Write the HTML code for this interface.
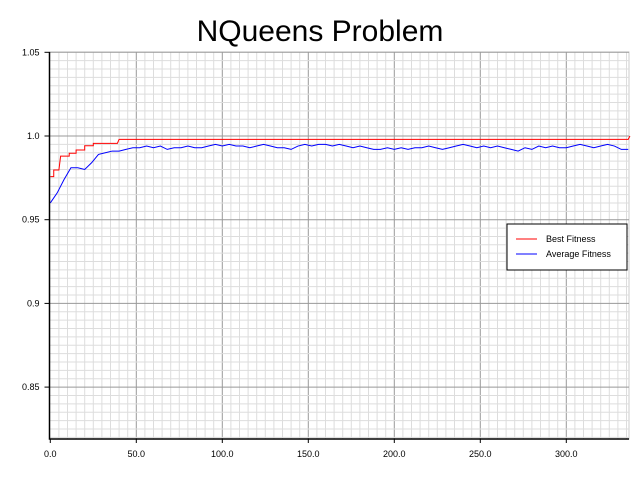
<!DOCTYPE html>
<html><head><meta charset="utf-8"><style>
body{margin:0;background:#fff;}
svg text{font-family:"Liberation Sans",Arial,sans-serif;}
</style></head><body>
<svg id="chart" width="640" height="480" xmlns="http://www.w3.org/2000/svg">
<text x="320" y="41" text-anchor="middle" font-size="30">NQueens Problem</text>
<g id="grid"></g><g id="series"></g><g id="axes"></g>
<g>
<rect x="507" y="224" width="120" height="46" fill="#fff" stroke="#000" stroke-width="1"/>
<line x1="516" y1="239" x2="537" y2="239" stroke="#f00"/>
<text x="546" y="242" font-size="9">Best Fitness</text>
<line x1="516" y1="254" x2="537" y2="254" stroke="#00f"/>
<text x="546" y="257" font-size="9">Average Fitness</text>
</g>
</svg>
<script>
const xTicks=[0,50,100,150,200,250,300];
const xTickLabels=["0.0","50.0","100.0","150.0","200.0","250.0","300.0"];
const yTicks=[0.85,0.9,0.95,1.0,1.05];
const yTickLabels=["0.85","0.9","0.95","1.0","1.05"];
const bestX=[0,2,2,5,6,11,11,15,15,20,20,25,25,39,40,336,337];
const bestY=[0.9757,0.9757,0.9797,0.9797,0.988,0.988,0.9897,0.9897,0.9916,0.9916,0.9942,0.9942,0.9956,0.9956,0.998,0.998,1.0];
const avgStep=4;
const avgY=[0.960,0.966,0.974,0.981,0.981,0.980,0.984,0.989,0.990,0.991,0.991,0.992,0.993,0.993,0.994,0.993,0.994,0.992,0.993,0.993,0.994,0.993,0.993,0.994,0.995,0.994,0.995,0.994,0.994,0.993,0.994,0.995,0.994,0.993,0.993,0.992,0.994,0.995,0.994,0.995,0.995,0.994,0.995,0.994,0.993,0.994,0.993,0.992,0.992,0.993,0.992,0.993,0.992,0.993,0.993,0.994,0.993,0.992,0.993,0.994,0.995,0.994,0.993,0.994,0.993,0.994,0.993,0.992,0.991,0.993,0.992,0.994,0.993,0.994,0.993,0.993,0.994,0.995,0.994,0.993,0.994,0.995,0.994,0.992,0.992];
const L=49.5,R=629,T=52,B=439;
const X=v=>50.3+v*1.72;
const Y=v=>136-(v-1.0)*1674;
const ns="http://www.w3.org/2000/svg";
function mk(tag,parent,attrs){const e=document.createElementNS(ns,tag);for(const k in attrs)e.setAttribute(k,attrs[k]);parent.appendChild(e);return e;}
const grid=document.getElementById('grid'),axes=document.getElementById('axes'),series=document.getElementById('series');
mk('rect',grid,{x:L,y:T,width:R-L,height:B-T,fill:'#fff',stroke:'#ccc'});
for(let v=5;X(v)<R;v+=5){const major=v%50===0;
const l=mk('line',grid,{x1:X(v),x2:X(v),y1:T,y2:B,stroke:major?'#999':'#ddd','stroke-width':1});

}
for(let i=0;;i++){const v=0.82+i*0.005;const y=Y(v);if(y<T)break;if(y>B)continue;const major=Math.abs((v*100)%5)<1e-6||Math.abs((v*100)%5-5)<1e-6;
const l=mk('line',grid,{x1:L,x2:R,y1:y,y2:y,stroke:major?'#999':'#ddd','stroke-width':1});

}
const ax=mk('path',axes,{d:`M${L},${T}V${B}H${R}`,fill:'none',stroke:'#000','stroke-width':1.5});


xTicks.forEach((v,i)=>{mk('line',axes,{x1:X(v),x2:X(v),y1:B,y2:B+4,stroke:'#000'});
const t=mk('text',axes,{x:X(v),y:B+18,'text-anchor':'middle','font-size':9});t.textContent=xTickLabels[i];

});
yTicks.forEach((v,i)=>{mk('line',axes,{x1:L-5,x2:L,y1:Y(v),y2:Y(v),stroke:'#000'});
const t=mk('text',axes,{x:L-10,y:Y(v)+3,'text-anchor':'end','font-size':9});t.textContent=yTickLabels[i];

});
const bp=mk('polyline',series,{points:bestX.map((x,i)=>X(x)+','+Y(bestY[i])).join(' '),fill:'none',stroke:'#f00','stroke-width':1});


const ap=mk('polyline',series,{points:avgY.map((v,i)=>X(i*avgStep)+','+Y(v)).join(' '),fill:'none',stroke:'#00f','stroke-width':1});


</script>
</body></html>
